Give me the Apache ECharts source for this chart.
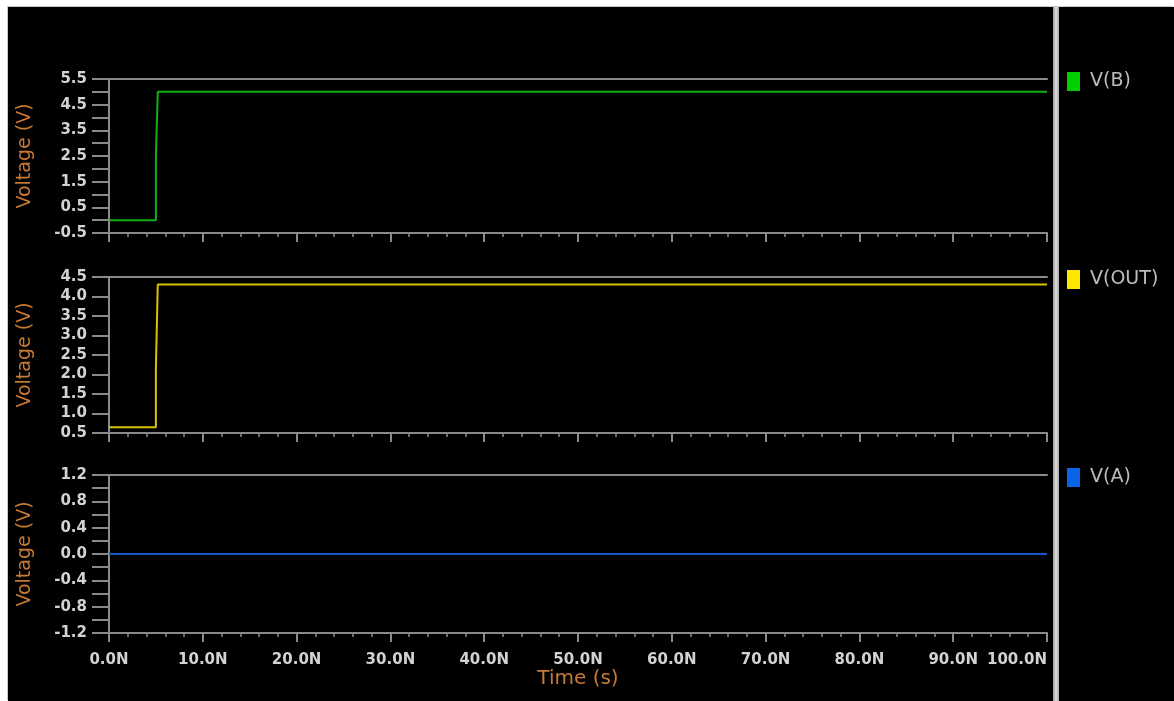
<!DOCTYPE html>
<html>
<head>
<meta charset="utf-8">
<title>Transient response</title>
<script src="https://cdn.jsdelivr.net/npm/echarts@6/dist/echarts.min.js"></script>
<style>
  html, body { margin: 0; padding: 0; background: #ffffff; }
  #wrap { position: absolute; left: 0; top: 0; width: 1174px; height: 701px; background: #ffffff; overflow: hidden; }
  #chart { position: absolute; left: 8px; top: 7px; width: 1166px; height: 694px; background: #000000;
           box-shadow: -1px -1px 0 #c8c8c8; }
</style>
</head>
<body>
<div id="wrap"><div id="chart"></div></div>
<script>
// Signal names and waveforms (time in ns, voltage in V)
const signalNames = ['V(B)', 'V(OUT)', 'V(A)'];
const signalColors = ['#12b012', '#d8c400', '#1456cc'];
const legendColors = ['#00d000', '#ffe800', '#0a64e8'];

const timeB = [0, 5.0, 5.0, 5.2, 5.2, 100];
const voltB = [0, 0, 2.5, 2.5, 5.0, 5.0];

const timeOut = [0, 5.0, 5.0, 5.2, 5.2, 100];
const voltOut = [0.65, 0.65, 2.18, 2.18, 4.31, 4.31];

const timeA = [0, 100];
const voltA = [0, 0];

// Axis ranges and tick steps for each panel
const yMin = [-0.5, 0.5, -1.2];
const yMax = [5.5, 4.5, 1.2];
const yStep = [0.5, 0.5, 0.2];
const yLabelEvery = [2, 1, 2];   // label every n-th tick
const timeTicks = [0, 10, 20, 30, 40, 50, 60, 70, 80, 90, 100];

const axisName = 'Voltage (V)';
const timeName = 'Time (s)';

const pairs = (t, v) => t.map((x, i) => [x, v[i]]);
const waves = [pairs(timeB, voltB), pairs(timeOut, voltOut), pairs(timeA, voltA)];

const gridBoxes = [
  { top: 72, height: 154 },
  { top: 270, height: 156 },
  { top: 468, height: 158 }
];

const lineGrey = '#8a8a8a';
const tickText = '#d2d2d2';
const nameColor = '#c87a34';

const grids = gridBoxes.map(b => ({ left: 100, right: 127, top: b.top, height: b.height }));

const xAxes = [];
const yAxes = [];
gridBoxes.forEach((b, i) => {
  const last = i === gridBoxes.length - 1;
  // bottom time axis
  xAxes.push({
    type: 'value', gridIndex: i, min: timeTicks[0], max: timeTicks[timeTicks.length - 1],
    interval: timeTicks[1] - timeTicks[0], position: 'bottom',
    axisLine: { onZero: false, lineStyle: { color: lineGrey, width: 2 } },
    axisTick: { show: true, length: 9, lineStyle: { color: lineGrey, width: 2 } },
    minorTick: { show: true, splitNumber: 5, length: 4, lineStyle: { color: lineGrey, width: 1.5 } },
    splitLine: { show: false },
    axisLabel: {
      show: last, margin: 20, color: tickText, fontFamily: 'DejaVu Sans', fontWeight: 'bold', fontSize: 15,
      alignMaxLabel: 'right',
      formatter: v => v.toFixed(1) + 'N'
    },
    name: last ? timeName : '', nameLocation: 'middle', nameGap: 32,
    nameTextStyle: { color: nameColor, fontFamily: 'DejaVu Sans', fontSize: 20 }
  });
  // top border line of each panel
  xAxes.push({
    type: 'value', gridIndex: i, min: 0, max: 100, position: 'top',
    axisLine: { onZero: false, lineStyle: { color: lineGrey, width: 2 } },
    axisTick: { show: false }, axisLabel: { show: false }, splitLine: { show: false }
  });
  const every = yLabelEvery[i];
  const lo = yMin[i], step = yStep[i];
  yAxes.push({
    type: 'value', gridIndex: i, min: yMin[i], max: yMax[i], interval: yStep[i],
    axisLine: { show: true, onZero: false, lineStyle: { color: lineGrey, width: 2 } },
    axisTick: { show: true, length: 17, lineStyle: { color: lineGrey, width: 2 } },
    splitLine: { show: false },
    axisLabel: {
      margin: 22, color: tickText, fontFamily: 'DejaVu Sans', fontWeight: 'bold', fontSize: 15,
      formatter: v => (Math.round((v - lo) / step) % every === 0 ? v.toFixed(1) : '')
    },
    name: axisName, nameLocation: 'middle', nameRotate: 90, nameGap: 74,
    nameTextStyle: { color: nameColor, fontFamily: 'DejaVu Sans', fontSize: 19 }
  });
});

const series = waves.map((d, i) => ({
  name: signalNames[i], type: 'line', xAxisIndex: i * 2, yAxisIndex: i,
  data: d, showSymbol: false, symbol: 'none', animation: false,
  lineStyle: { color: signalColors[i], width: 2 }, itemStyle: { color: legendColors[i] }
}));

const legends = signalNames.map((n, i) => ({
  data: [n], orient: 'vertical', left: 1054, top: gridBoxes[i].top - 12,
  icon: 'rect', itemWidth: 13, itemHeight: 19,
  textStyle: { color: '#bcbcbc', fontFamily: 'DejaVu Sans', fontSize: 19, padding: [0, 0, 0, 5] },
  selectedMode: false
}));

const chart = echarts.init(document.getElementById('chart'), null, { renderer: 'canvas' });
chart.setOption({
  backgroundColor: '#000000',
  animation: false,
  grid: grids,
  xAxis: xAxes,
  yAxis: yAxes,
  legend: legends,
  series: series,
  graphic: [{
    type: 'rect', left: 1045, top: 0,
    shape: { width: 6, height: 694 },
    style: {
      fill: new echarts.graphic.LinearGradient(0, 0, 1, 0, [
        { offset: 0, color: '#9a9a9a' }, { offset: 0.5, color: '#dcdcdc' }, { offset: 1, color: '#a8a8a8' }
      ])
    }
  }]
});
</script>
</body>
</html>
